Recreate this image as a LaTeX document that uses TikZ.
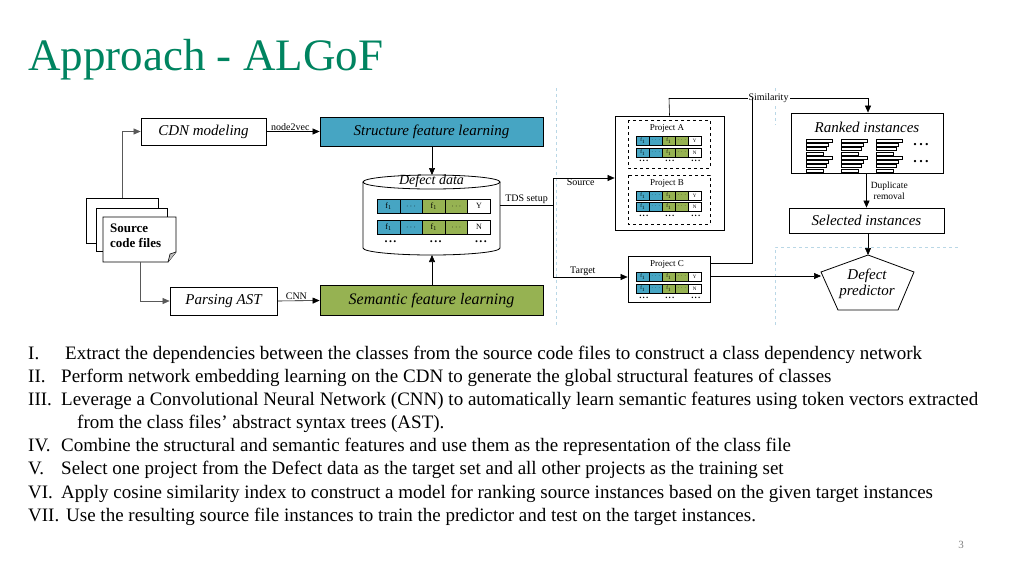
\documentclass[tikz,border=0pt]{standalone}
\usepackage{fontspec}
\setmainfont{Liberation Serif}
\usetikzlibrary{arrows.meta}
\definecolor{titlegreen}{RGB}{0,132,96}
\definecolor{sblue}{RGB}{70,165,195}
\definecolor{sgreen}{RGB}{150,178,82}
\definecolor{dashblue}{RGB}{185,215,230}
\newcommand\cellrow[6]{% x0 y0 w h letter fontsize
  \foreach \i/\c/\t in {0/sblue/f\textsubscript{1},1/sblue/$\cdots$,2/sgreen/f\textsubscript{1},3/sgreen/$\cdots$,4/white/#5}{
    \node[draw,fill=\c,minimum width=#3pt,minimum height=#4pt,inner sep=0pt,anchor=north west,font=\fontsize{#6}{#6}\selectfont] at ({#1+\i*#3},#2) {\t};}}
\newcommand\dotsrow[4]{% x0 y w fontsize
  \foreach \i in {0,1,2}{\node[font=\bfseries\fontsize{#4}{#4}\selectfont,inner sep=0pt] at ({#1+(2*\i+0.6)*#3},#2) {\textbf{.\hspace{0.12em}.\hspace{0.12em}.}};}}
\newcommand\stackicon[2]{%
  \foreach \k/\l in {0/26,1/22,2/20,3/17}{\draw[fill=white,line width=0.6pt] (#1,{#2+\k*4.3}) rectangle ++(\l,3);}}
\begin{document}
\begin{tikzpicture}[x=1pt,y=-1pt,
  box/.style={draw,line width=0.8pt,inner sep=0pt,font=\itshape\fontsize{15}{15}\selectfont},
  lab/.style={font=\fontsize{10}{10}\selectfont,inner sep=1pt},
  arr/.style={-{Triangle[length=7pt,width=6pt]},line width=0.6pt},
  ln/.style={line width=0.6pt}]
\useasboundingbox (0,0) rectangle (1024,576);
\node[anchor=base west,text=titlegreen,font=\fontsize{45}{45}\selectfont,inner sep=0pt] at (28,70) {Approach - ALGoF};

% dashed guides
\draw[dashblue,dashed,line width=0.8pt] (556,88) -- (556,325);
\draw[dashblue,dashed,line width=0.8pt] (775,88) -- (775,125);
\draw[dashblue,dashed,line width=0.8pt] (775,325) -- (775,247) -- (960,247);

% left part
\node[box,minimum width=125pt,minimum height=27pt] (cdn) at (203.5,131.5) {CDN modeling};
\node[box,fill=sblue,minimum width=223pt,minimum height=29pt] (sfl) at (431.5,131.5) {Structure feature learning};
\node[box,minimum width=107pt,minimum height=28pt] (ast) at (223.5,301) {Parsing AST};
\node[box,fill=sgreen,minimum width=223pt,minimum height=30pt,font=\itshape\fontsize{16}{16}\selectfont] (sem) at (431.5,300.5) {Semantic feature learning};

% source code files
\draw[line width=0.8pt,fill=white] (86,198) rectangle (158,243);
\draw[line width=0.8pt,fill=white] (96,208) rectangle (167,251);
\draw[line width=0.8pt,fill=white] (103,217) -- (176,217) -- (176,252) -- (168,262) -- (103,262) -- cycle;
\draw[line width=0.6pt,fill=lightgray] (168,262) -- (170,254) -- (176,252);
\node[align=left,anchor=north west,font=\bfseries\fontsize{13}{15}\selectfont,inner sep=0pt] (src) at (110,224) {Source\\code files};
\coordinate (srctop) at (122,198);
\coordinate (srcbot) at (140,262);
\draw[arr,gray!70!black] (srctop) |- (cdn.west);
\draw[arr,gray!70!black] (srcbot) |- (ast.west);
\draw[arr] (cdn.east) -- node[lab,above,pos=0.45]{node2vec} (sfl.west);
\draw[arr] (ast.east) -- node[lab,above,pos=0.45]{CNN} (sem.west);

% cylinder
\draw[line width=0.8pt,fill=white] (363,182) -- (363,248) arc[start angle=180,end angle=0,x radius=68.5,y radius=7] -- (500,182);
\draw[line width=0.8pt,fill=white] (431.5,182) ellipse[x radius=68.5,y radius=7];
\node[font=\itshape\fontsize{14}{14}\selectfont,inner sep=0pt] (dd) at (431.5,181) {Defect data};
\coordinate (cyltop) at (432,175);
\coordinate (cylbot) at (432,255);
\draw[arr] (sfl.south -| cyltop) -- (cyltop);
\draw[arr] (sem.north -| cylbot) -- (cylbot);
\cellrow{377}{199}{22.6}{14}{Y}{8}
\cellrow{377}{220}{22.6}{14}{N}{8}
\dotsrow{377}{242}{22.6}{12}

% TDS setup
\coordinate (tds) at (553,205);
\draw[ln] (500,205) -- node[lab,above]{TDS setup} (tds);
\draw[ln] (553,178) -- (553,277);
\node[draw,line width=0.8pt,minimum width=109pt,minimum height=114pt,inner sep=0] (ab) at (669.5,173) {};
\node[draw,line width=0.8pt,minimum width=82pt,minimum height=46pt,inner sep=0] (pc) at (669,279) {};
\draw[arr] (553,178) -- node[lab,below,pos=0.45]{Source} (ab.west |- 0,178);
\draw[arr] (553,277) -- node[lab,above,pos=0.4]{Target} (pc.west |- 0,277);

\draw[dashed,line width=0.8pt] (628,120) rectangle (710,168);
\draw[dashed,line width=0.8pt] (628,175) rectangle (710,224);
\node[lab,font=\fontsize{9}{9}\selectfont] (pa) at (667,128) {Project A};
\node[lab,font=\fontsize{9}{9}\selectfont] (pb) at (667,183) {Project B};
\node[lab,font=\fontsize{9}{9}\selectfont] (pcl) at (667,264) {Project C};
\cellrow{636}{136}{13}{9}{Y}{5}
\cellrow{636}{148}{13}{9}{N}{5}
\dotsrow{636}{161}{13}{9}
\cellrow{636}{191}{13}{9}{Y}{5}
\cellrow{636}{202}{13}{9}{N}{5}
\dotsrow{636}{216}{13}{9}
\cellrow{636}{272}{13}{9}{Y}{5}
\cellrow{636}{284}{13}{9}{N}{5}
\dotsrow{636}{298}{13}{9}

% right part
\node[box,minimum width=152pt,minimum height=60pt] (rank) at (867,143) {};
\node[font=\itshape\fontsize{15}{15}\selectfont,inner sep=0] at (867,127) {Ranked instances};
\stackicon{806}{139}\stackicon{841}{139}\stackicon{876}{139}
\stackicon{806}{156}\stackicon{841}{156}\stackicon{876}{156}
\node[font=\bfseries\fontsize{14}{14}\selectfont,inner sep=0] at (921,145) {\textbf{.\,.\,.}};
\node[font=\bfseries\fontsize{14}{14}\selectfont,inner sep=0] at (921,162) {\textbf{.\,.\,.}};
\node[box,minimum width=155pt,minimum height=25pt] (sel) at (866.5,220.5) {Selected instances};
\draw[arr] (rank.south -| sel.north) -- node[lab,right,align=center,font=\fontsize{9.5}{11}\selectfont,xshift=3pt]{Duplicate\\removal} (sel.north);
\coordinate (p1) at (868,255);
\draw[line width=0.8pt] (p1) -- (914,272) -- (898,310) -- (838,310) -- (821,272) -- cycle;
\node[font=\itshape\fontsize{15}{16}\selectfont,align=center,inner sep=0] (pred) at (867,284) {Defect\\predictor};
\draw[arr] (sel.south -| p1) -- (p1);
\draw[arr] (pc.east |- 0,276) -- (821,276);

\coordinate (sim) at (669,98);
\draw[ln] (ab.north) -- (sim);
\draw[arr] (sim) -- node[lab,pos=0.5,fill=white]{Similarity} (868,98) -- (rank.north -| 868,0);
\draw[ln] (pc.east |- 0,263) -- (752,263) -- (752,98);

% text
\begin{scope}[every node/.style={anchor=base west,inner sep=0pt,font=\fontsize{19}{19}\selectfont}]
\node at (28,359) {I.};
\node at (65,359) {Extract the dependencies between the classes from the source code files to construct a class dependency network};
\node at (28,382) {II.}; \node at (61,382) {Perform network embedding learning on the CDN to generate the global structural features of classes};
\node at (28,405) {III.}; \node at (61,405) {Leverage a Convolutional Neural Network (CNN) to automatically learn semantic features using token vectors extracted};
\node at (77,428) {from the class files’ abstract syntax trees (AST).};
\node at (28,451) {IV.}; \node at (61,451) {Combine the structural and semantic features and use them as the representation of the class file};
\node at (28,474) {V.}; \node at (61,474) {Select one project from the Defect data as the target set and all other projects as the training set};
\node at (28,498) {VI.}; \node at (61,498) {Apply cosine similarity index to construct a model for ranking source instances based on the given target instances};
\node at (28,521) {VII.}; \node at (66,521) {Use the resulting source file instances to train the predictor and test on the target instances.};
\end{scope}
\node[anchor=base,text=gray,font=\fontsize{11}{11}\selectfont] at (961,548) {3};
\end{tikzpicture}
\end{document}
